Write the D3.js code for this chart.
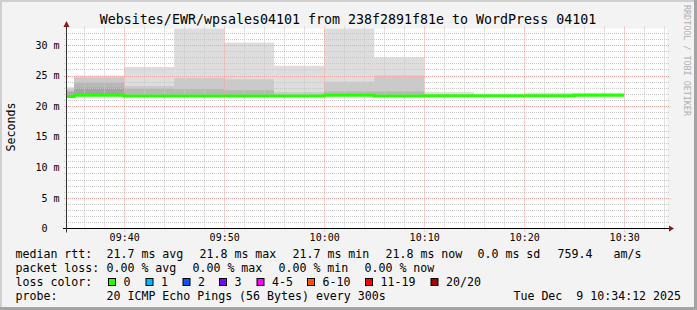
<!DOCTYPE html>
<html>
<head>
<meta charset="utf-8">
<script src="https://cdn.jsdelivr.net/npm/d3@7"></script>
<style>
body { margin: 0; background: #f3f3f3; }
svg { display: block; font-family: "DejaVu Sans Mono", monospace; }
svg text { white-space: pre; }
</style>
</head>
<body>
<svg id="chart" width="697" height="310"></svg>
<script>
const title = "Websites/EWR/wpsales04101 from 238f2891f81e to WordPress 04101";

// one value per 5 minute step (start time of the step)
const stepStarts = ["09:30", "09:35", "09:40", "09:45", "09:50", "09:55",
                    "10:00", "10:05", "10:10", "10:15", "10:20", "10:25"];
const medians = [21.6, 21.8, 21.68, 21.68, 21.68, 21.68, 21.8, 21.68, 21.72, 21.72, 21.7, 21.8];
// upper edge of each smoke band, outermost first (ms)
const smokeTops = [
    [23.1, 22.85, 22.5, 22.2],
    [25.0, 24.7, 23.9, 23.0],
    [26.4, 23.3, 22.9],
    [36.0, 24.6, 22.8],
    [30.4, 24.4, 22.6],
    [26.6, 22.3],
    [35.0, 24.0, 22.4],
    [28.0, 25.0, 22.4],
    [22.3],
    [],
    [22.2],
    [22.2]
];
const yTicks = [0, 5, 10, 15, 20, 25, 30];
const xTicks = ["09:40", "09:50", "10:00", "10:10", "10:20", "10:30"];

const rttValues = [21.7, 21.8, 21.7, 21.8];
const rttNames = ["avg", "max", "min", "now"];
const rttSd = 0.0;
const amPerS = 759.4;
const lossValues = [0.00, 0.00, 0.00, 0.00];
const lossLabels = ["0", "1", "2", "3", "4-5", "6-10", "11-19", "20/20"];
const lossColors = ["#26ff00", "#00b8ff", "#0059ff", "#7e00ff", "#ff00ff", "#ff5500", "#ff0000", "#a10000"];
const probeText = "20 ICMP Echo Pings (56 Bytes) every 300s";
const stampText = "Tue Dec  9 10:34:12 2025";

// smoke shades, band 1 = lightest (smokeping style)
const smokeShades = ["#dddddd", "#cacaca", "#b7b7b7", "#a4a4a4", "#919191"];

const W = 697, H = 310;
const plot = {left: 67, right: 667, top: 28.5, bottom: 228.5};

const svg = d3.select("#chart");
const hm = d3.timeParse("%H:%M");
const hms = d3.timeParse("%H:%M:%S");

const x = d3.scaleTime()
    .domain([hms("09:34:17"), hms("10:34:17")])
    .range([plot.left, plot.right]);
const y = d3.scaleLinear()
    .domain([0, 32.7])
    .range([plot.bottom, plot.top]);

// frame
svg.append("rect").attr("width", W).attr("height", H).attr("fill", "#f3f3f3");
svg.append("path").attr("d", `M1,${H} V1 H${W}`).attr("stroke", "#cfcfcf").attr("stroke-width", 2).attr("fill", "none");
svg.append("path").attr("d", `M0,${H - 1.5} H${W - 1.5} V0`).attr("stroke", "#a3a3a3").attr("stroke-width", 3).attr("fill", "none");

svg.append("rect")
    .attr("x", plot.left).attr("y", plot.top)
    .attr("width", plot.right - plot.left).attr("height", plot.bottom - plot.top)
    .attr("fill", "#ffffff");

svg.append("clipPath").attr("id", "clip")
    .append("rect")
    .attr("x", plot.left).attr("y", plot.top)
    .attr("width", plot.right - plot.left).attr("height", plot.bottom - plot.top);

// smoke
const steps = stepStarts.map((s, i) => ({
    start: hm(s),
    end: d3.timeMinute.offset(hm(s), 5),
    median: medians[i],
    tops: smokeTops[i]
}));

const smoke = svg.append("g").attr("clip-path", "url(#clip)");
steps.forEach(st => {
    st.tops.forEach((top, j) => {
        smoke.append("rect")
            .attr("x", x(st.start))
            .attr("width", x(st.end) - x(st.start))
            .attr("y", y(top))
            .attr("height", y(st.median) - y(top))
            .attr("fill", smokeShades[j]);
    });
});

// grid
const grid = svg.append("g");
const minorY = d3.range(1, 33).filter(v => v % 5 !== 0);
grid.selectAll(".hmin").data(minorY).join("line")
    .attr("x1", plot.left - 3).attr("x2", plot.right + 2)
    .attr("y1", d => Math.round(y(d)) + 0.5).attr("y2", d => Math.round(y(d)) + 0.5)
    .attr("stroke", "#c8c8c8").attr("stroke-dasharray", "1,1");
const minorX = x.ticks(d3.timeMinute.every(2)).filter(d => d.getMinutes() % 10 !== 0);
grid.selectAll(".vmin").data(minorX).join("line")
    .attr("x1", d => Math.round(x(d)) + 0.5).attr("x2", d => Math.round(x(d)) + 0.5)
    .attr("y1", plot.top - 2).attr("y2", plot.bottom + 2)
    .attr("stroke", "#c8c8c8").attr("stroke-dasharray", "1,1");
grid.selectAll(".hmaj").data(yTicks.filter(v => v > 0)).join("line")
    .attr("x1", plot.left - 3).attr("x2", plot.right + 2)
    .attr("y1", d => Math.round(y(d)) + 0.5).attr("y2", d => Math.round(y(d)) + 0.5)
    .attr("stroke", "#f3a0a0").attr("stroke-dasharray", "1,1");
grid.selectAll(".vmaj").data(xTicks.map(hm)).join("line")
    .attr("x1", d => Math.round(x(d)) + 0.5).attr("x2", d => Math.round(x(d)) + 0.5)
    .attr("y1", plot.top - 2).attr("y2", plot.bottom + 3)
    .attr("stroke", "#f3a0a0").attr("stroke-dasharray", "1,1");

// median line
const medianPts = steps.map(st => [st.start, st.median]);
medianPts.push([steps[steps.length - 1].end, steps[steps.length - 1].median]);
svg.append("path")
    .attr("clip-path", "url(#clip)")
    .attr("d", d3.line().x(d => x(d[0])).y(d => y(d[1])).curve(d3.curveStepAfter)(medianPts))
    .attr("fill", "none")
    .attr("stroke", lossColors[0])
    .attr("stroke-width", 3);

// axes (labels)
const yAxis = svg.append("g")
    .attr("transform", `translate(${plot.left - 0.5},0)`)
    .call(d3.axisLeft(y).tickValues(yTicks).tickSize(0).tickPadding(7)
        .tickFormat(d => d === 0 ? "0\u00a0\u00a0" : `${d} m`));
yAxis.select(".domain").remove();
yAxis.selectAll("text").attr("font-family", "DejaVu Sans Mono").attr("font-size", 10).attr("fill", "#000");

const xAxis = svg.append("g")
    .attr("transform", `translate(0,${plot.bottom})`)
    .call(d3.axisBottom(x).tickValues(xTicks.map(hm)).tickSize(0)
        .tickFormat(d3.timeFormat("%H:%M")));
xAxis.select(".domain").remove();
xAxis.selectAll("text").attr("y", 12.5).attr("dy", null)
    .attr("font-family", "DejaVu Sans Mono").attr("font-size", 10).attr("fill", "#000");

// axis lines with arrows
svg.append("line").attr("x1", plot.left - 4).attr("x2", plot.right + 2)
    .attr("y1", plot.bottom).attr("y2", plot.bottom).attr("stroke", "#000");
svg.append("line").attr("x1", plot.left - 0.5).attr("x2", plot.left - 0.5)
    .attr("y1", plot.bottom + 4).attr("y2", plot.top - 2).attr("stroke", "#333");
svg.append("path")
    .attr("d", `M${plot.left - 3.5},${plot.top - 1.5} L${plot.left + 2.5},${plot.top - 1.5} L${plot.left - 0.5},${plot.top - 7.5} Z`)
    .attr("fill", "#8b1a1a");
svg.append("path")
    .attr("d", `M${plot.right + 2},${plot.bottom - 3} L${plot.right + 2},${plot.bottom + 3} L${plot.right + 7},${plot.bottom} Z`)
    .attr("fill", "#8b1a1a");

// title & vertical labels
svg.append("text").attr("x", 348).attr("y", 24)
    .attr("text-anchor", "middle").attr("font-size", 13.3).attr("fill", "#000")
    .text(title);
svg.append("text").attr("transform", "translate(14.5,127) rotate(-90)")
    .attr("text-anchor", "middle").attr("font-size", 11.6).attr("fill", "#000")
    .text("Seconds");
svg.append("text").attr("transform", "translate(683.5,5) rotate(90)")
    .attr("font-size", 8.4).attr("fill", "#b0b0b0")
    .text("RRDTOOL / TOBI OETIKER");

// legend
const leg = svg.append("g").attr("font-size", 11.6).attr("fill", "#000");
const rows = [257.5, 271.5, 285.5, 299.5];
const put = (tx, xx, yy) => leg.append("text").attr("x", xx).attr("y", yy).text(tx);

put("median rtt:", 15.5, rows[0]);
const rttX = [106.5, 199.5, 292.5, 385.5];
rttValues.forEach((v, i) => put(`${v.toFixed(1)} ms ${rttNames[i]}`, rttX[i], rows[0]));
put(`${rttSd.toFixed(1)} ms sd`, 477.5, rows[0]);
put(amPerS.toFixed(1), 557.5, rows[0]);
put("am/s", 613.5, rows[0]);

put("packet loss:", 15.5, rows[1]);
const lossX = [106.5, 192.5, 278.5, 364.5];
lossValues.forEach((v, i) => put(`${v.toFixed(2)} % ${rttNames[i]}`, lossX[i], rows[1]));

put("loss color:", 15.5, rows[2]);
const boxX = [108, 145.5, 182.5, 219, 256.5, 307, 365, 430.5];
lossLabels.forEach((lab, i) => {
    leg.append("rect").attr("x", boxX[i] + 0.5).attr("y", 278.5)
        .attr("width", 7).attr("height", 7)
        .attr("fill", lossColors[i]).attr("stroke", "#000");
    put(lab, boxX[i] + 15.5, rows[2]);
});

put("probe:", 15.5, rows[3]);
put(probeText, 106.5, rows[3]);
put(stampText, 681, rows[3]).attr("text-anchor", "end");
</script>
</body>
</html>
